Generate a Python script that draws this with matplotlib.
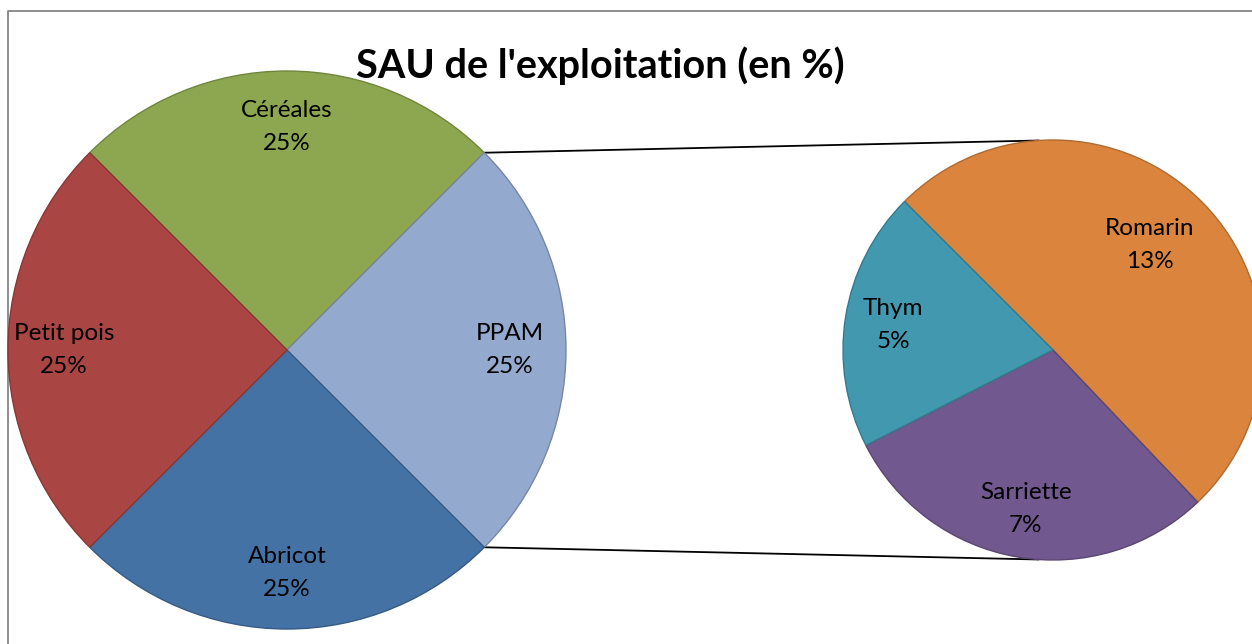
import matplotlib
matplotlib.use("Agg")
import matplotlib.pyplot as plt
import matplotlib.colors as mcolors
import numpy as np

# ---- data ----
main_labels = ["Céréales", "PPAM", "Abricot", "Petit pois"]
main_values = [25, 25, 25, 25]
main_colors = ["#8CA74F", "#94A9CE", "#4472A5", "#A94644"]

sub_labels = ["Romarin", "Sarriette", "Thym"]
sub_values = [12.6, 7.4, 5.0]
sub_colors = ["#DB843D", "#71588F", "#4298AF"]

title = "SAU de l'exploitation (en %)"

plt.rcParams['font.family'] = ['Lato', 'DejaVu Sans']

W, H = 1252, 644
fig = plt.figure(figsize=(W / 100, H / 100), dpi=100)
ax = fig.add_axes([0, 0, 1, 1])
ax.set_xlim(0, W)
ax.set_ylim(0, H)
ax.set_axis_off()

def darker(c, f=0.8):
    r, g, b = mcolors.to_rgb(c)
    return (r * f, g * f, b * f)

LABEL_FS = 17.5
LINESP = 1.7

# main pie
c1 = (287, H - 350)
r1 = 279
w1, _ = ax.pie(main_values, colors=main_colors, center=c1, radius=r1,
               startangle=135, counterclock=False, frame=True,
               wedgeprops=dict(linewidth=1.0))
for w, col in zip(w1, main_colors):
    w.set_edgecolor(darker(col, 0.8))
tot1 = sum(main_values)
for w, lab, v in zip(w1, main_labels, main_values):
    ang = np.deg2rad((w.theta1 + w.theta2) / 2)
    x = c1[0] + 0.8 * r1 * np.cos(ang)
    y = c1[1] + 0.8 * r1 * np.sin(ang)
    ax.text(x, y, f"{lab}\n{round(v / tot1 * 100):.0f}%", ha="center", va="center",
            fontsize=LABEL_FS, linespacing=LINESP, color="black")

# secondary pie
c2 = (1053, H - 350)
r2 = 210
w2, _ = ax.pie(sub_values, colors=sub_colors, center=c2, radius=r2,
               startangle=135, counterclock=False, frame=True,
               wedgeprops=dict(linewidth=1.0))
for w, col in zip(w2, sub_colors):
    w.set_edgecolor(darker(col, 0.8))
dists = [0.68, 0.77, 0.77]
for w, lab, v, d in zip(w2, sub_labels, sub_values, dists):
    ang = np.deg2rad((w.theta1 + w.theta2) / 2 + (3 if lab == "Romarin" else 0))
    x = c2[0] + d * r2 * np.cos(ang)
    y = c2[1] + d * r2 * np.sin(ang)
    ax.text(x, y, f"{lab}\n{round(v):.0f}%", ha="center", va="center",
            fontsize=LABEL_FS, linespacing=LINESP, color="black")

ax.set_xlim(0, W)
ax.set_ylim(0, H)
ax.set_aspect("equal")

# connector lines
for a1, a2 in [(45, 94), (-45, -94)]:
    p1 = (c1[0] + r1 * np.cos(np.deg2rad(a1)), c1[1] + r1 * np.sin(np.deg2rad(a1)))
    p2 = (c2[0] + r2 * np.cos(np.deg2rad(a2)), c2[1] + r2 * np.sin(np.deg2rad(a2)))
    ax.plot([p1[0], p2[0]], [p1[1], p2[1]], color="black", lw=1.3, zorder=0.5)

# chart frame
ax.plot([8, 8, W + 5], [-5, H - 11, H - 11], color="#868686", lw=1.3, zorder=0.1)

ax.text(600, H - 66, title, ha="center", va="center", fontsize=28.5,
        fontweight="bold", color="black")

fig.savefig("out.png", dpi=100)
